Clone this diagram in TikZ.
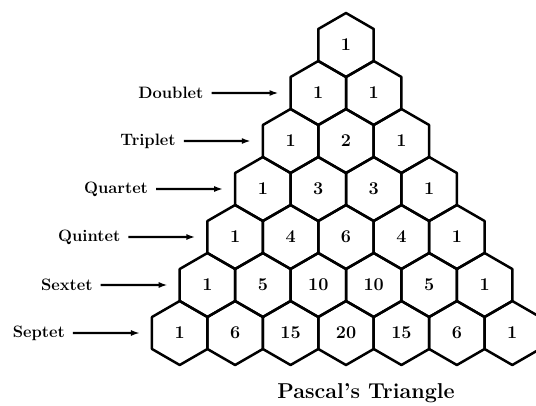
\documentclass[tikz,border=0pt]{standalone}
\usepackage{tikz}
\usetikzlibrary{arrows.meta,shapes.geometric,positioning}

\begin{document}
\begin{tikzpicture}[x=1pt,y=1pt,>={Latex[length=9pt,width=6pt]},line join=round]
\useasboundingbox (0,0) rectangle (536,-405);
\tikzset{
  hexcell/.style={regular polygon,regular polygon sides=6,shape border rotate=30,
    minimum size=64pt,inner sep=0pt,outer sep=0pt,draw,line width=2.5pt,
    font=\fontsize{18}{21}\selectfont\bfseries},
  rowlabel/.style={font=\fontsize{16.5}{19}\selectfont\bfseries,inner sep=5pt},
  rowarrow/.style={->,line width=2.2pt,shorten <=3pt,shorten >=12pt}
}

%% ---------------- the triangle itself ----------------
\foreach \i/\row in {0/{1},1/{1,1},2/{1,2,1},3/{1,3,3,1},4/{1,4,6,4,1},
    5/{1,5,10,10,5,1},6/{1,6,15,20,15,6,1}}{
  \foreach \n [count=\k from 0] in \row
    \node[hexcell] (h-\i-\k) at ({346+(\k-\i/2)*55.43},{-45-48*\i}) {\n};
}

%% ---------------- multiplicity names ----------------
\node[rowlabel,left=82pt of h-1-0] (doublet) {Doublet};
\node[rowlabel,left=82pt of h-2-0] (triplet) {Triplet};
\node[rowlabel,left=82pt of h-3-0] (quartet) {Quartet};
\node[rowlabel,left=82pt of h-4-0] (quintet) {Quintet};
\node[rowlabel,left=82pt of h-5-0] (sextet)  {Sextet};
\node[rowlabel,left=82pt of h-6-0] (septet)  {Septet};
\draw[rowarrow] (doublet) -- (h-1-0);
\draw[rowarrow] (triplet) -- (h-2-0);
\draw[rowarrow] (quartet) -- (h-3-0);
\draw[rowarrow] (quintet) -- (h-4-0);
\draw[rowarrow] (sextet)  -- (h-5-0);
\draw[rowarrow] (septet)  -- (h-6-0);

\node[font=\fontsize{21.5}{25}\selectfont\bfseries] (title) at (366,-393)
  {Pascal's Triangle};
\end{tikzpicture}
\end{document}
